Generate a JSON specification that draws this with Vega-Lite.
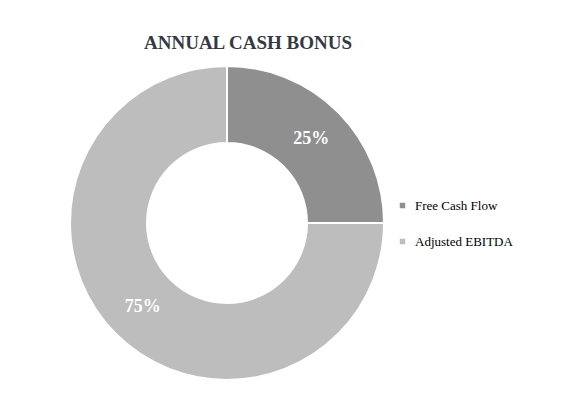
{
  "$schema": "https://vega.github.io/schema/vega-lite/v6.json",
  "width": 320,
  "height": 320,
  "autosize": {"type": "none"},
  "padding": {"left": 67, "top": 63, "right": 198, "bottom": 34},
  "background": "white",
  "title": {
    "text": "ANNUAL CASH BONUS",
    "font": "Liberation Serif",
    "fontSize": 19,
    "fontWeight": "bold",
    "color": "#333a44",
    "anchor": "middle",
    "dx": 21,
    "offset": 9
  },
  "data": {
    "values": [
      {"metric": "Free Cash Flow", "share": 25, "label": "25%", "rank": 1},
      {"metric": "Adjusted EBITDA", "share": 75, "label": "75%", "rank": 2}
    ]
  },
  "encoding": {
    "theta": {"field": "share", "type": "quantitative", "stack": true},
    "order": {"field": "rank", "type": "quantitative"}
  },
  "layer": [
    {
      "mark": {"type": "arc", "outerRadius": 157, "innerRadius": 80, "stroke": "white", "strokeWidth": 2},
      "encoding": {
        "color": {
          "field": "metric",
          "type": "nominal",
          "scale": {"domain": ["Free Cash Flow", "Adjusted EBITDA"], "range": ["#8f8f8f", "#bdbdbd"]},
          "legend": {
            "title": null,
            "orient": "none",
            "legendX": 329,
            "legendY": 136,
            "symbolType": "square",
            "symbolSize": 30,
            "symbolStrokeWidth": 0,
            "labelFont": "Liberation Serif",
            "labelFontSize": 13,
            "labelColor": "#000000",
            "labelOffset": 6,
            "rowPadding": 22
          }
        }
      }
    },
    {
      "mark": {"type": "text", "radius": 119, "font": "Liberation Serif", "fontSize": 18, "fontWeight": "bold", "color": "white"},
      "encoding": {
        "text": {"field": "label", "type": "nominal"}
      }
    }
  ],
  "view": {"stroke": null},
  "config": {"view": {"stroke": null}}
}
